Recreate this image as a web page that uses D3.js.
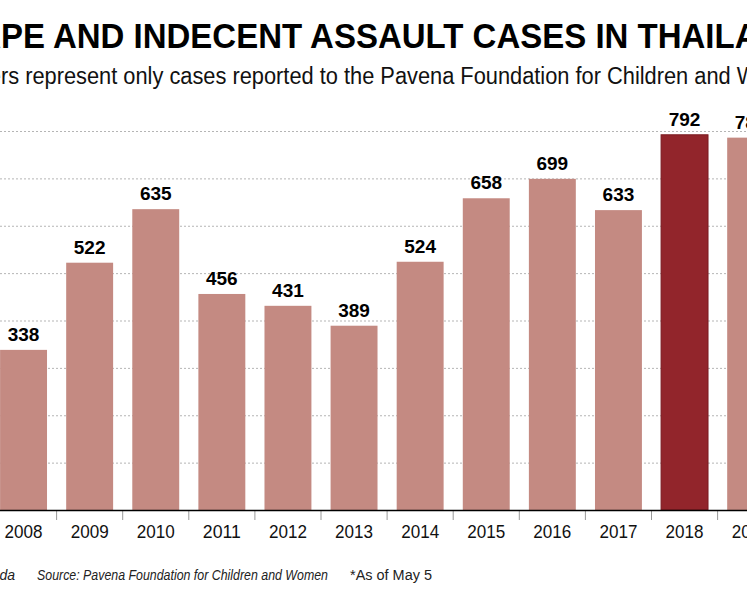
<!DOCTYPE html>
<html><head><meta charset="utf-8">
<script src="https://cdn.jsdelivr.net/npm/d3@7"></script>
<style>body{margin:0;overflow:hidden;background:#fff}</style>
</head><body>
<svg id="chart" width="747" height="598"></svg>
<script>
var years = ["2008","2009","2010","2011","2012","2013","2014","2015","2016","2017","2018","2019"];
var cases = [338, 522, 635, 456, 431, 389, 524, 658, 699, 633, 792, 786];
var highlight = "2018";
var gridValues = [100, 200, 300, 400, 500, 600, 700, 800];

var svg = d3.select("#chart");
var baseY = 510;
var font = "Liberation Sans, Arial, sans-serif";

// band scale laid out so that the chart runs off both edges like the crop
var x = d3.scaleBand().domain(years)
  .range([-9.5, -9.5 + years.length * 66.1])
  .paddingInner(0.29).paddingOuter(0.145);
var y = d3.scaleLinear().domain([0, 800]).range([baseY, 131]);

// squeeze a text horizontally so a given part of it spans a given width, starting at x0
function fitText(sel, prefix, visible, x0, width) {
  sel.text(prefix);
  var pw = sel.node().getComputedTextLength();
  sel.text(visible);
  var vw = sel.node().getComputedTextLength();
  var s = width / vw;
  sel.text(sel.datum()).attr("x", -pw)
    .attr("transform", "translate(" + x0 + ",0) scale(" + s + ",1)");
}

var title = svg.append("text").datum("RAPE AND INDECENT ASSAULT CASES IN THAILAND")
  .attr("y", 48).attr("font-size", 35).attr("font-weight", "bold")
  .attr("font-family", font).attr("fill", "#000");
fitText(title, "RA", "PE AND INDECENT ASSAULT CASES IN THAIL", 1, 734);

var sub = svg.append("text").datum("Numbers represent only cases reported to the Pavena Foundation for Children and Women")
  .attr("y", 84).attr("font-size", 23)
  .attr("font-family", font).attr("fill", "#111");
fitText(sub, "Numbe", "rs represent only cases reported to the Pavena Foundation for Children and ", 1, 730);

// gridlines
svg.append("g").selectAll("line").data(gridValues).join("line")
  .attr("x1", 0).attr("x2", 747)
  .attr("y1", function(d){ return y(d) + 0.5; }).attr("y2", function(d){ return y(d) + 0.5; })
  .attr("stroke", "#b5b5b5").attr("stroke-dasharray", "2,2").attr("stroke-width", 1);

// bars
svg.append("g").selectAll("rect").data(years).join("rect")
  .attr("x", function(d){ return x(d); })
  .attr("width", x.bandwidth())
  .attr("y", function(d, i){ return y(cases[i]); })
  .attr("height", function(d, i){ return baseY - y(cases[i]); })
  .attr("fill", function(d){ return d == highlight ? "#92252b" : "#c48a82"; })
  .attr("stroke", function(d){ return d == highlight ? "#7a1a20" : "none"; });

// value labels
svg.append("g").selectAll("text").data(years).join("text")
  .attr("x", function(d){ return x(d) + x.bandwidth() / 2; })
  .attr("y", function(d, i){ return y(cases[i]) - 9; })
  .attr("text-anchor", "middle").attr("font-size", 19).attr("font-weight", "bold")
  .attr("font-family", font)
  .text(function(d, i){ return cases[i]; });

// axis
var gx = svg.append("g").attr("transform", "translate(0," + baseY + ")").call(d3.axisBottom(x).tickSize(0));
gx.select(".domain").remove();
gx.selectAll("text").attr("font-size", 19).attr("dy", "1.3em")
  .attr("font-family", font).attr("fill", "#111")
  .attr("textLength", 38).attr("lengthAdjust", "spacingAndGlyphs");
svg.append("g").selectAll("line").data(years).join("line")
  .attr("x1", function(d){ return x(d) + x.bandwidth() + x.step() * 0.145; })
  .attr("x2", function(d){ return x(d) + x.bandwidth() + x.step() * 0.145; })
  .attr("y1", baseY).attr("y2", baseY + 10).attr("stroke", "#999");
svg.append("line").attr("x1", 0).attr("x2", 747).attr("y1", baseY + 0.5).attr("y2", baseY + 0.5)
  .attr("stroke", "#000").attr("stroke-width", 1.5);

// footnotes
var foot = svg.append("g").attr("font-family", font).attr("font-size", 14).attr("fill", "#222");
foot.append("text").attr("x", 15).attr("y", 580).attr("text-anchor", "end")
  .attr("font-style", "italic").text("Graphic: Nanda");
foot.append("text").attr("x", 37).attr("y", 580).attr("font-style", "italic")
  .attr("textLength", 291).attr("lengthAdjust", "spacingAndGlyphs")
  .text("Source: Pavena Foundation for Children and Women");
foot.append("text").attr("x", 350).attr("y", 580)
  .attr("textLength", 82).attr("lengthAdjust", "spacingAndGlyphs").text("*As of May 5");
</script>
</body></html>
